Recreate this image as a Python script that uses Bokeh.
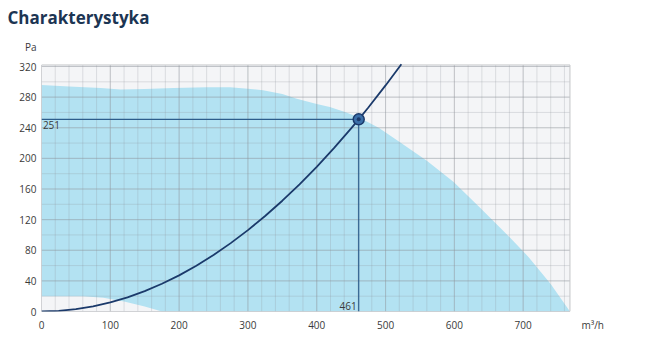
from bokeh.plotting import figure
from bokeh.models import Range1d, FixedTicker, Label
from bokeh.embed import file_html
from bokeh.resources import INLINE

# ---- data ----
# upper edge of the working area (m3/h, Pa)
area_top_x = [0, 40, 86, 115, 150, 192, 240, 274, 300, 322, 350, 371, 400, 419, 440, 460, 490, 521, 560, 599, 637, 676, 708, 740, 768]
area_top_y = [296, 294, 292, 290, 290.5, 292, 293, 293, 291, 289, 284, 278, 271, 267, 261, 254, 240, 221, 197, 169, 136, 101, 71, 36, 0]
# lower-left cut-out of the working area (m3/h, Pa)
area_low_x = [175, 150, 120, 90, 60, 0]
area_low_y = [0, 6.5, 13, 18, 20, 20]
# system curve (m3/h, Pa)
sys_x = [0, 25, 50, 75, 100, 125, 150, 175, 200, 225, 250, 275, 300, 325, 350, 375, 400, 425, 450, 461, 475, 500, 523]
sys_y = [0, 0.7, 3.0, 6.6, 11.8, 18.5, 26.6, 36.2, 47.2, 59.8, 73.8, 89.3, 106.3, 124.7, 144.7, 166.1, 189.0, 213.3, 239.2, 251, 266.5, 295.3, 323]
# operating point
op_x = 461
op_y = 251

# chart area limits and ticks
x_max = 768
y_max = 322
x_major = [0, 100, 200, 300, 400, 500, 600, 700]
y_major = [0, 40, 80, 120, 160, 200, 240, 280, 320]
x_minor = list(range(0, 761, 20))
y_minor = list(range(0, 321, 20))

title_text = "Charakterystyka"
y_unit = "Pa"
x_unit = "m³/h"
y_unit_pos = 345
x_unit_pos = 801

FONT = "Open Sans"
TXT = "#3a3a3a"

p = figure(width=646, height=352, frame_width=605, frame_height=281,
           min_border_left=41, min_border_right=0, min_border_top=30, min_border_bottom=41,
           x_range=Range1d(0, 605 / 0.6881), y_range=Range1d(0, 281 / 0.7656),
           output_backend="svg", toolbar_location=None, tools="")

p.background_fill_color = "white"
p.border_fill_color = "white"
p.outline_line_color = None
p.xgrid.visible = False
p.ygrid.visible = False

p.title.text = title_text
p.title.align = "left"
p.title.offset = -34
p.title.text_font = FONT
p.title.text_font_size = "17px"
p.title.text_font_style = "bold"
p.title.text_color = "#1c3553"
p.title.standoff = 4

p.xaxis.ticker = FixedTicker(ticks=x_major + [x_unit_pos])
p.xaxis.major_label_overrides = {x_unit_pos: x_unit}
p.yaxis.ticker = FixedTicker(ticks=y_major + [y_unit_pos])
p.yaxis.major_label_overrides = {y_unit_pos: y_unit}

for ax in (p.xaxis[0], p.yaxis[0]):
    ax.axis_line_color = None
    ax.major_tick_line_color = None
    ax.major_tick_out = 0
    ax.major_tick_in = 0
    ax.minor_tick_line_color = None
    ax.major_label_text_font = FONT
    ax.major_label_text_font_size = "10px"
    ax.major_label_text_color = TXT
p.xaxis.major_label_standoff = 6
p.yaxis.major_label_standoff = 5

# chart area background
p.quad(left=[0], right=[x_max], bottom=[0], top=[y_max],
       fill_color="#f4f5f7", line_color=None)

# working area
xs = list(area_top_x) + list(area_low_x)
ys = list(area_top_y) + list(area_low_y)
p.patch(xs, ys, fill_color="#b3e2f2", line_color=None)

# grid (drawn over the area, semi-transparent)
p.segment(x0=x_minor, y0=[0] * len(x_minor), x1=x_minor, y1=[y_max] * len(x_minor),
          line_color="#8f959c", line_alpha=0.25, line_width=1)
p.segment(x0=[0] * len(y_minor), y0=y_minor, x1=[x_max] * len(y_minor), y1=y_minor,
          line_color="#8f959c", line_alpha=0.25, line_width=1)
p.segment(x0=x_major, y0=[0] * len(x_major), x1=x_major, y1=[y_max] * len(x_major),
          line_color="#8f959c", line_alpha=0.35, line_width=1)
p.segment(x0=[0] * len(y_major), y0=y_major, x1=[x_max] * len(y_major), y1=y_major,
          line_color="#8f959c", line_alpha=0.35, line_width=1)

# chart area border
p.quad(left=[0], right=[x_max], bottom=[0], top=[y_max],
       fill_color=None, line_color="#c4c6c9", line_width=1)

# operating point guides
p.line([0, op_x], [op_y, op_y], line_color="#2d5d8c", line_width=1.2)
p.line([op_x, op_x], [0, op_y], line_color="#2d5d8c", line_width=1.2)

# system curve
p.line(sys_x, sys_y, line_color="#1b3a6b", line_width=1.8)

# operating point marker
p.scatter([op_x], [op_y], size=11, fill_color="#3a6ea8", line_color="#1b3a6b", line_width=1.5)
p.scatter([op_x], [op_y], size=4, fill_color="#1b3a6b", line_color=None)

p.add_layout(Label(x=2, y=op_y - 2, text=str(op_y), text_font=FONT, text_font_size="10px",
                   text_color=TXT, text_baseline="top", text_align="left"))
p.add_layout(Label(x=op_x - 3, y=2, text=str(op_x), text_font=FONT, text_font_size="10px",
                   text_color=TXT, text_baseline="bottom", text_align="right"))

open("out.html", "w").write(file_html(p, INLINE))
